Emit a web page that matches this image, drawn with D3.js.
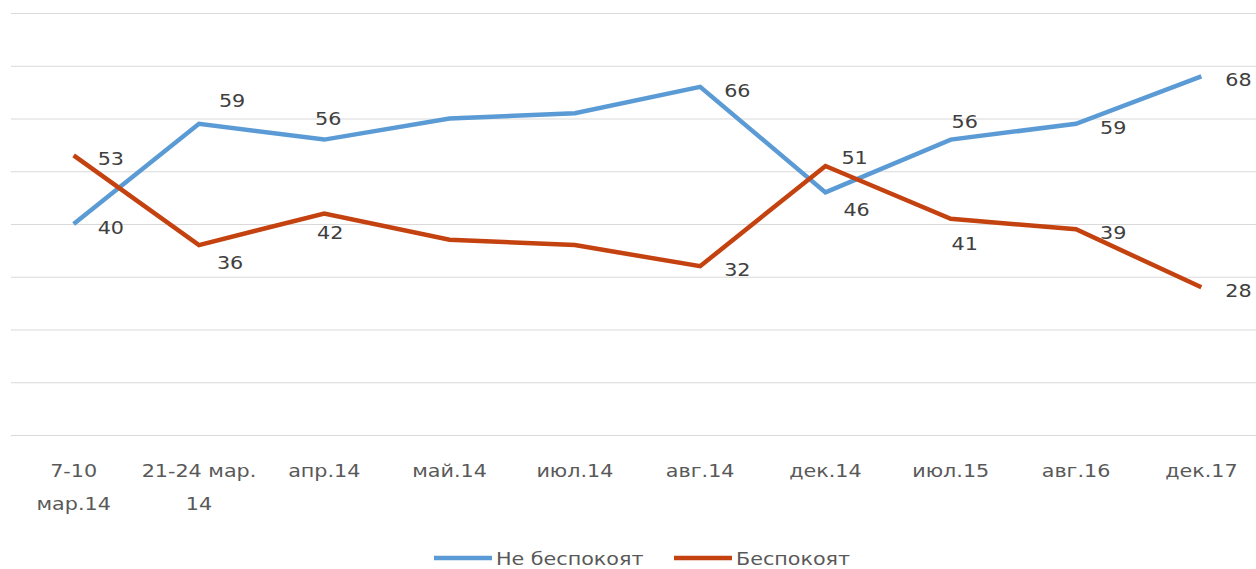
<!DOCTYPE html>
<html>
<head>
<meta charset="utf-8">
<script src="https://cdn.jsdelivr.net/npm/d3@7"></script>
<style>
  body { margin: 0; background: #fff; }
  svg { display: block; font-family: "DejaVu Sans", sans-serif; }
</style>
</head>
<body>
<div id="chart"></div>
<script>
// categories (axis labels, split into lines like the original)
var categories = ["7-10 мар.14", "21-24 мар. 14", "апр.14", "май.14", "июл.14", "авг.14", "дек.14", "июл.15", "авг.16", "дек.17"];
var categoryLines = [["7-10", "мар.14"], ["21-24 мар.", "14"], ["апр.14"], ["май.14"], ["июл.14"], ["авг.14"], ["дек.14"], ["июл.15"], ["авг.16"], ["дек.17"]];

// series values
var notWorried = [40, 59, 56, 60, 61, 66, 46, 56, 59, 68];
var worried    = [53, 36, 42, 37, 36, 32, 51, 41, 39, 28];

// which points carry a label (null = no label)
var notWorriedLabels = [40, 59, 56, null, null, 66, 46, 56, 59, 68];
var worriedLabels    = [53, 36, 42, null, null, 32, 51, 41, 39, 28];

// label placement codes
var notWorriedPlace = ["r", "ur", "a", "", "", "r", "dr", "a2", "r", "r"];
var worriedPlace    = ["r", "dr", "b", "", "", "r", "nr", "b2", "r", "r"];

var seriesNames = ["Не беспокоят", "Беспокоят"];
var yTicks = [0, 10, 20, 30, 40, 50, 60, 70, 80];

var width = 1256, height = 569;
var colors = ["#5b9bd5", "#c4420f"];
var stretch = 1.15;   // the original text is drawn wider than DejaVu

var placeOffsets = {
    r:  {dx: 24, dy: 10},
    ur: {dx: 20, dy: -17},
    dr: {dx: 18, dy: 24},
    nr: {dx: 16, dy: -2},
    a:  {dx: 4,  dy: -15, anchor: "middle"},
    a2: {dx: 14, dy: -12, anchor: "middle"},
    b:  {dx: 6,  dy: 26, anchor: "middle"},
    b2: {dx: 14, dy: 31, anchor: "middle"}
};

function wideText(sel, px, py) {
    return sel.append("text")
        .attr("transform", "translate(" + px + "," + py + ") scale(" + stretch + ",1)");
}

var svg = d3.select("#chart").append("svg")
    .attr("width", width)
    .attr("height", height);

svg.append("rect").attr("width", width).attr("height", height).attr("fill", "#fff");

var x = d3.scalePoint().domain(categories).range([11, 1264]).padding(0.5);
var y = d3.scaleLinear().domain([0, 80]).range([435, 13]);

// gridlines
var grid = svg.append("g")
    .attr("transform", "translate(11,0)")
    .call(d3.axisLeft(y).tickValues(yTicks).tickSize(-(width)).tickFormat(""));
grid.select(".domain").remove();
grid.selectAll(".tick line").attr("stroke", "#d9d9d9").attr("stroke-width", 1.2);

// category labels
var xl = svg.append("g");
categories.forEach(function(c, i) {
    var t = wideText(xl, x(c), 477)
        .attr("text-anchor", "middle")
        .style("font-size", "18px")
        .style("fill", "#595959");
    categoryLines[i].forEach(function(line, j) {
        t.append("tspan").attr("x", 0).attr("dy", j === 0 ? 0 : 33).text(line);
    });
});

var line = d3.line()
    .x(function(d, i) { return x(categories[i]); })
    .y(function(d) { return y(d); });

var allSeries = [notWorried, worried];
var allLabels = [notWorriedLabels, worriedLabels];
var allPlace = [notWorriedPlace, worriedPlace];

allSeries.forEach(function(s, k) {
    svg.append("path")
        .datum(s)
        .attr("d", line)
        .attr("fill", "none")
        .attr("stroke", colors[k])
        .attr("stroke-width", 4.5)
        .attr("stroke-linejoin", "miter");
});

allSeries.forEach(function(s, k) {
    s.forEach(function(v, i) {
        var lab = allLabels[k][i];
        if (lab === null) return;
        var p = placeOffsets[allPlace[k][i]];
        wideText(svg, x(categories[i]) + p.dx, y(v) + p.dy)
            .attr("text-anchor", p.anchor || "start")
            .style("font-size", "18px")
            .style("fill", "#404040")
            .text(lab);
    });
});

// legend
var legendX = [434, 674];
seriesNames.forEach(function(name, k) {
    var g = svg.append("g").attr("transform", "translate(" + legendX[k] + ",558)");
    g.append("line")
        .attr("x1", 0).attr("x2", 58)
        .attr("stroke", colors[k])
        .attr("stroke-width", 4.5);
    wideText(g, 62, 7)
        .style("font-size", "18px")
        .style("fill", "#595959")
        .text(name);
});
</script>
</body>
</html>
